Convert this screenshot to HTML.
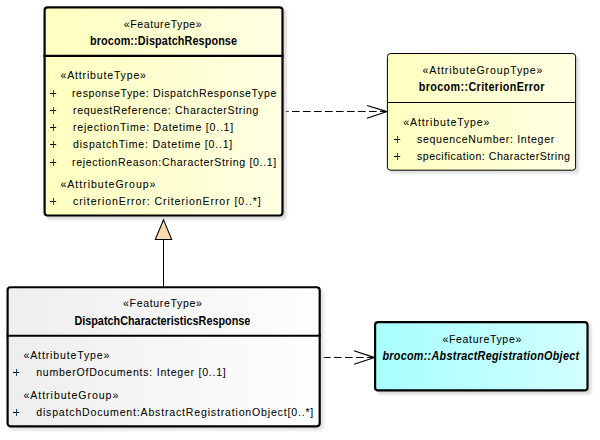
<!DOCTYPE html>
<html><head><meta charset="utf-8">
<style>
html,body{margin:0;padding:0;background:#fff;width:600px;height:440px;overflow:hidden}
svg{display:block}
text{font-family:"Liberation Sans",sans-serif;font-size:11.75px;fill:#000;stroke:#000;stroke-width:0.05px}
.b{font-weight:bold;font-size:12px;stroke-width:0}
.bi{font-weight:bold;font-style:italic;font-size:12px;stroke-width:0}
</style></head><body>
<svg width="600" height="440" viewBox="0 0 600 440">
<defs>
<linearGradient id="gy" x1="0" x2="1" y1="0" y2="0"><stop offset="0" stop-color="#ffffc0"/><stop offset="1" stop-color="#ffffe2"/></linearGradient>
<linearGradient id="gg" x1="0" x2="1" y1="0" y2="0"><stop offset="0" stop-color="#eeeeee"/><stop offset="1" stop-color="#fefefe"/></linearGradient>
<linearGradient id="gc" x1="0" x2="1" y1="0" y2="0"><stop offset="0" stop-color="#a8ffff"/><stop offset="1" stop-color="#d2ffff"/></linearGradient>
<filter id="sh" x="-10%" y="-10%" width="130%" height="130%"><feGaussianBlur stdDeviation="0.8"/></filter>
</defs>
<line x1="281" y1="111.5" x2="386" y2="111.5" stroke="#000" stroke-width="1.2" stroke-dasharray="7.6 3.4"/>
<polyline points="367,105.5 387,111.6 367,118.3" fill="none" stroke="#000" stroke-width="1.2"/>
<line x1="323" y1="357.5" x2="374" y2="357.5" stroke="#000" stroke-width="1.2" stroke-dasharray="7.6 3.4"/>
<polyline points="354,350.8 374.5,357.6 354,364.2" fill="none" stroke="#000" stroke-width="1.2"/>
<line x1="163.5" y1="239" x2="163.5" y2="287" stroke="#000" stroke-width="1"/>
<rect x="46.50" y="9.20" width="240.10" height="210.40" rx="3" fill="#dcdcdc" filter="url(#sh)"/>
<rect x="44.60" y="7.30" width="237.90" height="208.20" rx="3" fill="url(#gy)" stroke="#000" stroke-width="2.2"/>
<line x1="43.50" y1="55.9" x2="283.60" y2="55.9" stroke="#000" stroke-width="2.2"/>
<text transform="translate(123.8,28) scale(0.9,1)" textLength="86.56" lengthAdjust="spacing">«FeatureType»</text>
<text transform="translate(90,45) scale(0.9,1)" class="b" textLength="163.33" lengthAdjust="spacing">brocom::DispatchResponse</text>
<text transform="translate(60.5,79) scale(0.9,1)" textLength="95.00" lengthAdjust="spacing">«AttributeType»</text>
<path d="M50,93.5H56.2" stroke="#000" stroke-width="1" fill="none"/><path d="M53.5,90V97" stroke="#24446a" stroke-width="1" fill="none"/>
<text transform="translate(72,97) scale(0.9,1)" textLength="227.00" lengthAdjust="spacing">responseType: DispatchResponseType</text>
<path d="M50,110.5H56.2" stroke="#000" stroke-width="1" fill="none"/><path d="M53.5,107V114" stroke="#24446a" stroke-width="1" fill="none"/>
<text transform="translate(73,114) scale(0.9,1)" textLength="206.11" lengthAdjust="spacing">requestReference: CharacterString</text>
<path d="M50,127.5H56.2" stroke="#000" stroke-width="1" fill="none"/><path d="M53.5,124V131" stroke="#24446a" stroke-width="1" fill="none"/>
<text transform="translate(73,131) scale(0.9,1)" textLength="178.00" lengthAdjust="spacing">rejectionTime: Datetime [0..1]</text>
<path d="M50,144.5H56.2" stroke="#000" stroke-width="1" fill="none"/><path d="M53.5,141V148" stroke="#24446a" stroke-width="1" fill="none"/>
<text transform="translate(73,148) scale(0.9,1)" textLength="177.00" lengthAdjust="spacing">dispatchTime: Datetime [0..1]</text>
<path d="M50,162.5H56.2" stroke="#000" stroke-width="1" fill="none"/><path d="M53.5,159V166" stroke="#24446a" stroke-width="1" fill="none"/>
<text transform="translate(72,166) scale(0.9,1)" textLength="227.00" lengthAdjust="spacing">rejectionReason:CharacterString [0..1]</text>
<text transform="translate(60.5,188) scale(0.9,1)" textLength="105.56" lengthAdjust="spacing">«AttributeGroup»</text>
<path d="M50,201.5H56.2" stroke="#000" stroke-width="1" fill="none"/><path d="M53.5,198V205" stroke="#24446a" stroke-width="1" fill="none"/>
<text transform="translate(73,205) scale(0.9,1)" textLength="208.56" lengthAdjust="spacing">criterionError: CriterionError [0..*]</text>
<rect x="389.90" y="56.00" width="189.20" height="117.70" rx="3" fill="#e0e0e0" filter="url(#sh)"/>
<rect x="387.40" y="53.50" width="188.20" height="116.70" rx="3" fill="url(#gy)" stroke="#000" stroke-width="1"/>
<line x1="386.90" y1="102.5" x2="576.10" y2="102.5" stroke="#000" stroke-width="1"/>
<text transform="translate(422.5,73.7) scale(0.9,1)" textLength="133.33" lengthAdjust="spacing">«AttributeGroupType»</text>
<text transform="translate(418.75,90.5) scale(0.9,1)" class="b" textLength="139.72" lengthAdjust="spacing">brocom::CriterionError</text>
<text transform="translate(403.25,125.8) scale(0.9,1)" textLength="95.83" lengthAdjust="spacing">«AttributeType»</text>
<path d="M394,139.5H400.2" stroke="#000" stroke-width="1" fill="none"/><path d="M397.5,136V143" stroke="#24446a" stroke-width="1" fill="none"/>
<text transform="translate(417,143) scale(0.9,1)" textLength="152.50" lengthAdjust="spacing">sequenceNumber: Integer</text>
<path d="M394,156.5H400.2" stroke="#000" stroke-width="1" fill="none"/><path d="M397.5,153V160" stroke="#24446a" stroke-width="1" fill="none"/>
<text transform="translate(417,160) scale(0.9,1)" textLength="170.00" lengthAdjust="spacing">specification: CharacterString</text>
<rect x="9.50" y="289.15" width="314.30" height="141.30" rx="3" fill="#e4e4e4" filter="url(#sh)"/>
<rect x="7.60" y="287.25" width="312.10" height="139.10" rx="3" fill="url(#gg)" stroke="#000" stroke-width="2.2"/>
<line x1="6.50" y1="335.75" x2="320.80" y2="335.75" stroke="#000" stroke-width="2.2"/>
<text transform="translate(123,306.5) scale(0.9,1)" textLength="87.78" lengthAdjust="spacing">«FeatureType»</text>
<text transform="translate(74.4,324.6) scale(0.9,1)" class="b" textLength="195.44" lengthAdjust="spacing">DispatchCharacteristicsResponse</text>
<text transform="translate(23.5,359) scale(0.9,1)" textLength="95.44" lengthAdjust="spacing">«AttributeType»</text>
<path d="M13,372.5H19.2" stroke="#000" stroke-width="1" fill="none"/><path d="M16.5,369V376" stroke="#24446a" stroke-width="1" fill="none"/>
<text transform="translate(36.2,376) scale(0.9,1)" textLength="210.67" lengthAdjust="spacing">numberOfDocuments: Integer [0..1]</text>
<text transform="translate(23.5,399) scale(0.9,1)" textLength="105.33" lengthAdjust="spacing">«AttributeGroup»</text>
<path d="M13,412.5H19.2" stroke="#000" stroke-width="1" fill="none"/><path d="M16.5,409V416" stroke="#24446a" stroke-width="1" fill="none"/>
<text transform="translate(36.2,416) scale(0.9,1)" textLength="307.89" lengthAdjust="spacing">dispatchDocument:AbstractRegistrationObject[0..*]</text>
<rect x="377.00" y="324.00" width="214.60" height="70.50" rx="3" fill="#dcdcdc" filter="url(#sh)"/>
<rect x="375.10" y="322.10" width="212.40" height="68.30" rx="3" fill="url(#gc)" stroke="#000" stroke-width="2.2"/>
<text transform="translate(442.4,342.8) scale(0.9,1)" textLength="87.67" lengthAdjust="spacing">«FeatureType»</text>
<text transform="translate(382.4,360.2) scale(0.9,1)" class="bi" textLength="218.56" lengthAdjust="spacing">brocom::AbstractRegistrationObject</text>
<polygon points="163.5,219.8 155.3,239.5 171.7,239.5" fill="#f8dcae" stroke="#000" stroke-width="1.05" stroke-linejoin="miter"/>
</svg>
</body></html>
